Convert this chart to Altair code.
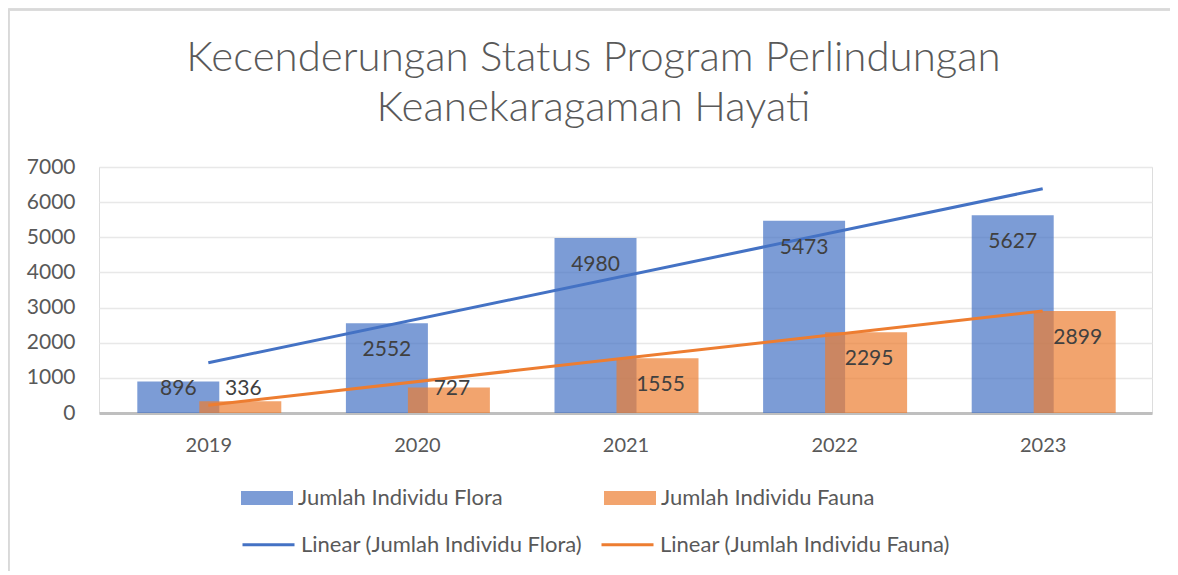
import altair as alt
import pandas as pd

years = ["2019", "2020", "2021", "2022", "2023"]
flora = [896, 2552, 4980, 5473, 5627]
fauna = [336, 727, 1555, 2295, 2899]
series_names = ["Jumlah Individu Flora", "Jumlah Individu Fauna"]
trend_names = ["Linear (Jumlah Individu Flora)", "Linear (Jumlah Individu Fauna)"]
y_ticks = [0, 1000, 2000, 3000, 4000, 5000, 6000, 7000]
title_lines = ["Kecenderungan Status Program Perlindungan", "Keanekaragaman Hayati"]

rows = []
for i, y in enumerate(years):
    rows.append({"idx": i + 1, "year": y, "series": series_names[0], "value": flora[i]})
for i, y in enumerate(years):
    rows.append({"idx": i + 1, "year": y, "series": series_names[1], "value": fauna[i]})
df = pd.DataFrame(rows)

FONT = "Lato"
label_expr = "[" + ",".join("'%s'" % y for y in years) + "][datum.value - 1]"

x_axis = alt.Axis(values=[1, 2, 3, 4, 5], labelExpr=label_expr, title=None, grid=False,
                  ticks=False, domain=True, domainColor="#BFBFBF", domainWidth=3,
                  labelFont=FONT, labelFontSize=20, labelColor="#595959", labelPadding=22)
x_scale = alt.Scale(domain=[0.5, 5.5], nice=False, zero=False)
y_axis = alt.Axis(values=y_ticks, format="d", labelOverlap=False, title=None, domain=False,
                  ticks=False, gridColor="#E8E8E8", gridWidth=1.3, labelFont=FONT,
                  labelFontSize=21, labelColor="#595959", labelPadding=24)
y_scale = alt.Scale(domain=[0, 7000], nice=False)


def xq(field):
    return alt.X(field, scale=x_scale, axis=x_axis)


def yq(field):
    return alt.Y(field, scale=y_scale, axis=y_axis)


color_scale = alt.Scale(domain=series_names, range=["#4472C4", "#ED7D31"])
rect_path = "M-1,-0.27H1V0.27H-1Z"
color_enc = alt.Color(
    "series:N", scale=color_scale,
    legend=alt.Legend(title=None, orient="none", legendX=142, legendY=305, direction="horizontal",
                      symbolType=rect_path, symbolSize=2704, labelFont=FONT, labelFontSize=22,
                      labelColor="#595959", labelOffset=5, columnPadding=101, labelLimit=500,
                      symbolOpacity=0.7, symbolStrokeWidth=0),
)

base = alt.Chart(df)

bar_flora = base.transform_filter(alt.datum.series == series_names[0]).mark_bar(
    size=82, xOffset=-30, opacity=0.7).encode(x=xq("idx:Q"), y=yq("value:Q"), color=color_enc)
bar_fauna = base.transform_filter(alt.datum.series == series_names[1]).mark_bar(
    size=82, xOffset=32, opacity=0.7).encode(x=xq("idx:Q"), y=yq("value:Q"), color=color_enc)

label_base = base.transform_calculate(lab_pos="max(datum.value - 770, 680)")
lab_flora = label_base.transform_filter(alt.datum.series == series_names[0]).mark_text(
    font=FONT, fontSize=21, color="#404040", dx=-30, baseline="middle").encode(
    x=xq("idx:Q"), y=yq("lab_pos:Q"), text="value:Q")
lab_fauna = label_base.transform_filter(alt.datum.series == series_names[1]).mark_text(
    font=FONT, fontSize=21, color="#404040", dx=35, baseline="middle").encode(
    x=xq("idx:Q"), y=yq("lab_pos:Q"), text="value:Q")

trend = base.transform_regression("idx", "value", groupby=["series"]).transform_calculate(
    trend="'Linear (' + datum.series + ')'"
).mark_line(strokeWidth=3).encode(
    x=xq("idx:Q"), y=yq("value:Q"),
    stroke=alt.Stroke(
        "trend:N", scale=alt.Scale(domain=trend_names, range=["#4472C4", "#ED7D31"]),
        legend=alt.Legend(title=None, orient="none", legendX=142, legendY=350, direction="horizontal",
                          symbolType="stroke", symbolSize=2704, symbolStrokeWidth=3,
                          labelFont=FONT, labelFontSize=22, labelColor="#595959", labelOffset=5,
                          columnPadding=12, labelLimit=500),
    ),
)

frame_left = alt.Chart(df).mark_rule(color="#D9D9D9", strokeWidth=1.5).encode(
    x=alt.value(-90.5), y=alt.value(-157.5), y2=alt.value(420))
frame_top = alt.Chart(df).mark_rule(color="#D9D9D9", strokeWidth=1.5).encode(
    x=alt.value(-90.5), x2=alt.value(1080), y=alt.value(-157.5))

chart = alt.layer(
    frame_left, frame_top, bar_flora, bar_fauna, trend, lab_flora, lab_fauna
).properties(
    width=1053, height=246,
    title=alt.TitleParams(title_lines, font=FONT, fontSize=42, fontWeight=300, color="#595959",
                          anchor="middle", frame="group", dx=-32, dy=131, offset=10,
                          lineHeight=50),
    autosize=alt.AutoSizeParams(type="none"),
    padding={"left": 91, "top": 159, "right": 18, "bottom": 158},
).configure_view(stroke=None).configure(background="white")

chart.save("out.html", embed_options={"renderer": "svg", "actions": False})
